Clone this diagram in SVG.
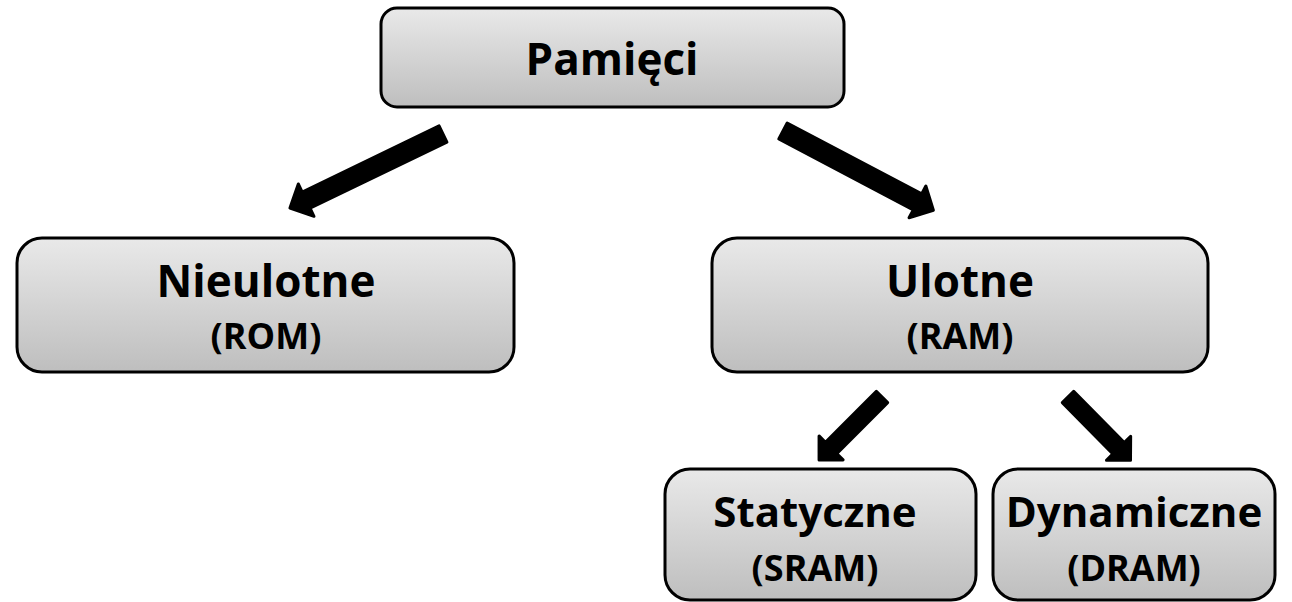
<svg xmlns="http://www.w3.org/2000/svg" width="1292" height="602" viewBox="0 0 1292 602">
  <style>
    .box { fill: url(#boxFill); stroke: #000; stroke-width: 3; }
    .title { font-family: "Open Sans", "Liberation Sans", sans-serif; font-weight: 700; font-size: 44px; fill: #000; text-anchor: middle; }
    .small { font-size: 42px; }
    .sub { font-family: "Open Sans", "Liberation Sans", sans-serif; font-weight: 700; font-size: 36px; fill: #000; text-anchor: middle; }
    .arrow { fill: #000; stroke: #000; stroke-width: 3; stroke-linejoin: round; }
  </style>
  <defs>
    <linearGradient id="boxFill" x1="0" y1="0" x2="0" y2="1">
      <stop offset="0" stop-color="#e9e9e9"/>
      <stop offset="1" stop-color="#bebebe"/>
    </linearGradient>
  </defs>

  <!-- block arrows, drawn along +x and rotated into place -->
  <g id="connectors">
    <path class="arrow" transform="translate(443,134) rotate(154.2)" d="M0,-9 L152,-9 L152,-18 L170,0 L152,18 L152,9 L0,9 Z"/>
    <path class="arrow" transform="translate(783,131) rotate(27.8)" d="M0,-9 L152,-9 L152,-18 L170,0 L152,18 L152,9 L0,9 Z"/>
    <path class="arrow" transform="translate(882,397) rotate(135)" d="M0,-8 L72,-8 L72,-17 L89,0 L72,17 L72,8 L0,8 Z"/>
    <path class="arrow" transform="translate(1068,397) rotate(45.4)" d="M0,-8 L72,-8 L72,-17 L89,0 L72,17 L72,8 L0,8 Z"/>
  </g>

  <g id="pamieci">
    <rect class="box" x="381" y="8" width="463" height="99" rx="16"/>
    <text class="title" x="612" y="75">Pamięci</text>
  </g>

  <g id="nieulotne">
    <rect class="box" x="17" y="238" width="497" height="134" rx="25"/>
    <text class="title" x="266" y="297">Nieulotne</text>
    <text class="sub" x="266" y="349">(ROM)</text>
  </g>

  <g id="ulotne">
    <rect class="box" x="712" y="238" width="496" height="134" rx="25"/>
    <text class="title" x="960" y="297">Ulotne</text>
    <text class="sub" x="960" y="349">(RAM)</text>
  </g>

  <g id="statyczne">
    <rect class="box" x="665" y="469" width="311" height="131" rx="25"/>
    <text class="title small" x="815" y="527">Statyczne</text>
    <text class="sub" x="815" y="581">(SRAM)</text>
  </g>

  <g id="dynamiczne">
    <rect class="box" x="993" y="469" width="282" height="131" rx="25"/>
    <text class="title small" x="1134" y="527">Dynamiczne</text>
    <text class="sub" x="1134" y="581">(DRAM)</text>
  </g>
</svg>
